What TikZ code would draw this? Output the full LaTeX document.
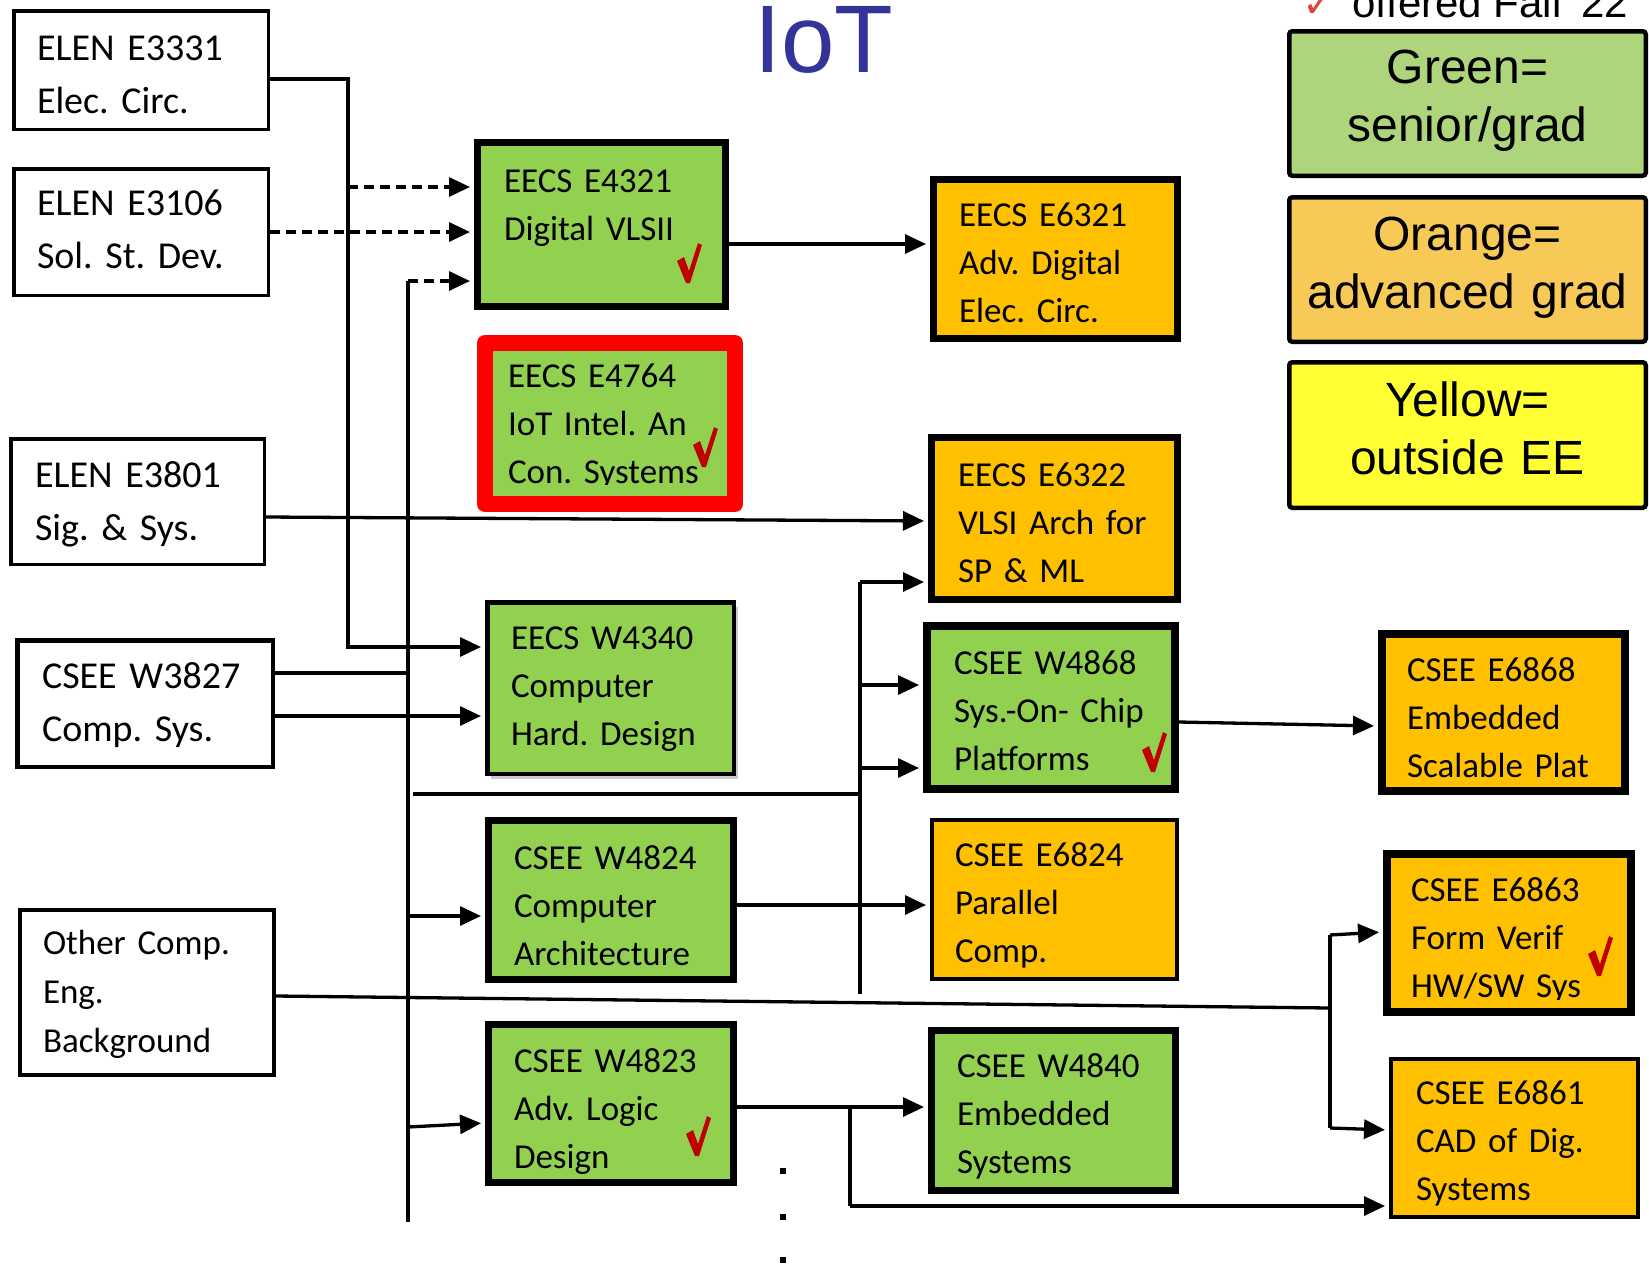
\documentclass[tikz,border=0pt]{standalone}
\usepackage{fontspec}
\setmainfont{Carlito}
\newfontfamily\helv{Liberation Sans}
\newfontfamily\dejavu{DejaVu Sans}
\usetikzlibrary{arrows.meta,shadows}
\definecolor{cgreen}{HTML}{92D050}
\definecolor{corange}{HTML}{FFC000}
\definecolor{lgreen}{HTML}{AFD57C}
\definecolor{lorange}{HTML}{F7C957}
\definecolor{lyellow}{HTML}{FFFF33}
\definecolor{iotblue}{HTML}{333399}
\definecolor{chkred}{HTML}{C00000}
\definecolor{chkredb}{HTML}{E0443E}
\frenchspacing

% name, style, x1, y1, x2, y2 (border centre line), text left, first baseline, text
\newcommand\coursebox[9]{%
  \pgfmathsetmacro\cbW{#5-#3}%
  \pgfmathsetmacro\cbH{#6-#4}%
  \pgfmathsetmacro\cbX{(#3+#5)/2}%
  \pgfmathsetmacro\cbY{(#4+#6)/2}%
  \pgfmathsetmacro\cbP{#7-#3}%
  \pgfmathsetmacro\cbT{\cbW-2*\cbP}%
  \pgfmathsetmacro\cbD{2*(\cbY-#8)}%
  \pgfmathsetmacro\cbTH{max(0,0-(\cbD))}%
  \pgfmathsetmacro\cbTD{max(0,\cbD)}%
  \node[#2, minimum width=\cbW pt, minimum height=\cbH pt, inner xsep=\cbP pt,
        inner ysep=0pt, text width=\cbT pt, text height=\cbTH pt, text depth=\cbTD pt]
        (#1) at (\cbX,\cbY) {#9};%
}

\tikzset{
  conn/.style={line width=3.3pt},
  arr/.style={conn, -{Triangle[length=21pt,width=19pt]}, shorten >=4pt},
  dsh/.style={dash pattern=on 10pt off 6pt},
  basebox/.style={draw, align=left},
  wbox/.style={basebox, line width=3.5pt, fill=white, font=\frenchspacing\fontsize{38}{53}\selectfont},
  gbox/.style={basebox, line width=7pt, fill=cgreen, font=\frenchspacing\fontsize{35}{48}\selectfont},
  obox/.style={basebox, line width=7pt, fill=corange, font=\frenchspacing\fontsize{35}{48}\selectfont},
  lgbox/.style={draw, line width=4.5pt, rounded corners=3pt, align=center,
                font=\helv\fontsize{48}{58}\selectfont},
  chk/.pic={\fill[chkred] (0,18) -- (7,14) -- (12,28) -- (21,0) -- (25,2) -- (13,40) -- (9,40) -- cycle;}
}

\begin{document}
\begin{tikzpicture}[x=1pt,y=-1pt]
\useasboundingbox (0,0) rectangle (1649,1267);
\fill[white] (0,0) rectangle (1649,1267);

% title and legend
\node[font=\helv\fontsize{96}{96}\selectfont, text=iotblue, anchor=base, inner sep=0pt, text height=68pt, text depth=0pt] (title) at (824,72) {IoT};
\node[font=\dejavu\fontsize{40}{40}\selectfont, text=chkredb, anchor=base west, inner sep=0pt] (legchk) at (1302,17) {✓};
\node[font=\helv\fontsize{42}{42}\selectfont, anchor=base west, inner sep=0pt] (legtxt) at (1352,17) {offered Fall '22};
\coursebox{leggreen}{lgbox,fill=lgreen}{1289.25}{31.25}{1645.75}{175.75}{1299}{83}{Green=\\senior/grad}
\coursebox{legorange}{lgbox,fill=lorange}{1289.25}{197.25}{1645.75}{341.75}{1299}{250}{Orange=\\advanced grad}
\coursebox{legyellow}{lgbox,fill=lyellow}{1289.25}{362.25}{1645.75}{507.75}{1299}{416}{Yellow=\\outside EE}

% left boxes
\coursebox{e3331}{wbox}{13.75}{10.75}{268.25}{129.25}{37}{60}{ELEN E3331\\Elec. Circ.}
\coursebox{e3106}{wbox}{13.75}{168.75}{268.25}{295.25}{37}{215}{ELEN E3106\\Sol. St. Dev.}
\coursebox{e3801}{wbox}{10.75}{438.75}{264.25}{564.25}{35}{487}{ELEN E3801\\Sig. \& Sys.}
\coursebox{w3827}{wbox,line width=4.5pt}{17.25}{640.25}{272.75}{766.75}{42}{688}{CSEE W3827\\Comp. Sys.}
\coursebox{other}{wbox,line width=4pt,font=\frenchspacing\fontsize{35}{49}\selectfont}{20}{910}{274}{1075}{43}{954}{Other Comp.\\Eng.\\Background}

% middle column
\coursebox{e4321}{gbox}{477.5}{142.5}{725.5}{306.5}{504}{192}{EECS E4321\\Digital VLSII}
\coursebox{e4764}{gbox,draw=none,outer sep=0pt}{485}{343}{735}{504}{508}{387}{EECS E4764\\IoT Intel. An\\Con. Systems}
\fill[cgreen] (494,485) rectangle (726,497);
\draw[red, line width=16pt, line join=round] (e4764.north west) rectangle (e4764.south east);
\coursebox{w4340}{gbox,line width=4.5pt,drop shadow={shadow xshift=4pt,shadow yshift=-5pt,fill=black!40}}{487.25}{602.25}{733.75}{773.75}{511}{649}{EECS W4340\\Computer\\Hard. Design}
\coursebox{w4824}{gbox}{488.5}{820.5}{733.5}{979.5}{514}{869}{CSEE W4824\\Computer\\Architecture}
\coursebox{w4823}{gbox}{488.5}{1024.5}{733.5}{1182.5}{514}{1072}{CSEE W4823\\Adv. Logic\\Design}

% right-middle column
\coursebox{e6321}{obox}{933.5}{179.5}{1177.5}{338.5}{959}{226}{EECS E6321\\Adv. Digital\\Elec. Circ.}
\coursebox{e6322}{obox}{931.5}{437.5}{1177.5}{599.5}{958}{486}{EECS E6322\\VLSI Arch for\\SP \& ML}
\coursebox{w4868}{gbox,line width=8pt}{927}{626}{1175}{789}{954}{674}{CSEE W4868\\Sys.-On- Chip\\Platforms}
\coursebox{e6824}{obox,line width=4pt}{932}{820}{1177}{979}{955}{866}{CSEE E6824\\Parallel\\Comp.}
\coursebox{w4840}{gbox}{931.5}{1030.5}{1175.5}{1190.5}{957}{1077}{CSEE W4840\\Embedded\\Systems}

% right column
\coursebox{e6868}{obox,line width=8pt}{1382}{634}{1625}{791}{1407}{681}{CSEE E6868\\Embedded\\Scalable Plat}
\coursebox{e6863}{obox,line width=8pt}{1387}{854}{1631}{1012}{1411}{901}{CSEE E6863\\Form Verif\\HW/SW Sys}
\fill[corange] (1392,1000) rectangle (1626,1007);
\coursebox{e6861}{obox,line width=4pt}{1391}{1059}{1638}{1217}{1416}{1104}{CSEE E6861\\CAD of Dig.\\Systems}

% check marks
\pic at (677,243) {chk};
\pic at (693,427) {chk};
\pic at (1142,732) {chk};
\pic at (1588,936) {chk};
\pic at (686,1116) {chk};

% junction coordinates
\coordinate (a1) at (348,79);
\coordinate (a2) at (348,647);
\coordinate (d1) at (348,187);
\coordinate (v2t) at (408,281);
\coordinate (v2b) at (408,1222);
\coordinate (v3t) at (860,582);
\coordinate (v3b) at (860,994);
\coordinate (h1) at (413,794);
\coordinate (v4t) at (1330,935);
\coordinate (v4b) at (1330,1128);
\coordinate (oce) at (1330,1008);
\coordinate (v5t) at (850,1107);
\coordinate (v5b) at (850,1206);
\coordinate (y517) at (0,517);
\coordinate (y521) at (0,521);
\coordinate (y673) at (0,673);
\coordinate (y716) at (0,716);
\coordinate (y916) at (0,916);
\coordinate (y1127) at (0,1127);
\coordinate (y1123) at (0,1123);
\coordinate (y685) at (0,685);
\coordinate (y768) at (0,768);
\coordinate (y905) at (0,905);
\coordinate (y244) at (0,244);
\coordinate (y722) at (0,722);
\coordinate (y726) at (0,726);
\coordinate (y996) at (0,996);
\coordinate (y932) at (0,932);
\coordinate (y1130) at (0,1130);
\coordinate (y1107) at (0,1107);

% connectors
\draw[arr] (e3331.east |- a1) -- (a1) -- (a2) -- (a2 -| w4340.west);
\draw[arr,dsh] (d1) -- (d1 -| e4321.west);
\draw[arr,dsh] (e3106.east) -- (e3106.east -| e4321.west);
\draw[conn] (v2b) -- (v2t);
\draw[arr,dsh] (v2t) -- (v2t -| e4321.west);
\draw[arr] (e3801.east |- y517) -- (e6322.west |- y521);
\draw[conn] (w3827.east |- y673) -- (v2t |- y673);
\draw[arr] (w3827.east |- y716) -- (w4340.west |- y716);
\draw[arr] (v2t |- y916) -- (w4824.west |- y916);
\draw[arr] (v2t |- y1127) -- (w4823.west |- y1123);
\draw[conn] (h1) -- (h1 -| v3t);
\draw[conn] (v3t) -- (v3b);
\draw[arr] (v3t) -- (v3t -| e6322.west);
\draw[arr] (v3t |- y685) -- (w4868.west |- y685);
\draw[arr] (v3t |- y768) -- (w4868.west |- y768);
\draw[arr] (w4824.east |- y905) -- (e6824.west |- y905);
\draw[arr] (e4321.east |- y244) -- (e6321.west |- y244);
\draw[arr] (w4868.east |- y722) -- (e6868.west |- y726);
\draw[conn] (other.east |- y996) -- (oce);
\draw[conn] (v4t) -- (v4b);
\draw[arr] (v4t) -- (e6863.west |- y932);
\draw[arr] (v4b) -- (e6861.west |- y1130);
\draw[arr] (w4823.east |- y1107) -- (w4840.west |- y1107);
\draw[conn] (v5t) -- (v5b);
\draw[arr] (v5b) -- (v5b -| e6861.west);

% continuation dots
\fill (780,1168) rectangle (786,1174);
\fill (780,1214) rectangle (786,1220);
\fill (780,1257) rectangle (786,1263);
\end{tikzpicture}
\end{document}
